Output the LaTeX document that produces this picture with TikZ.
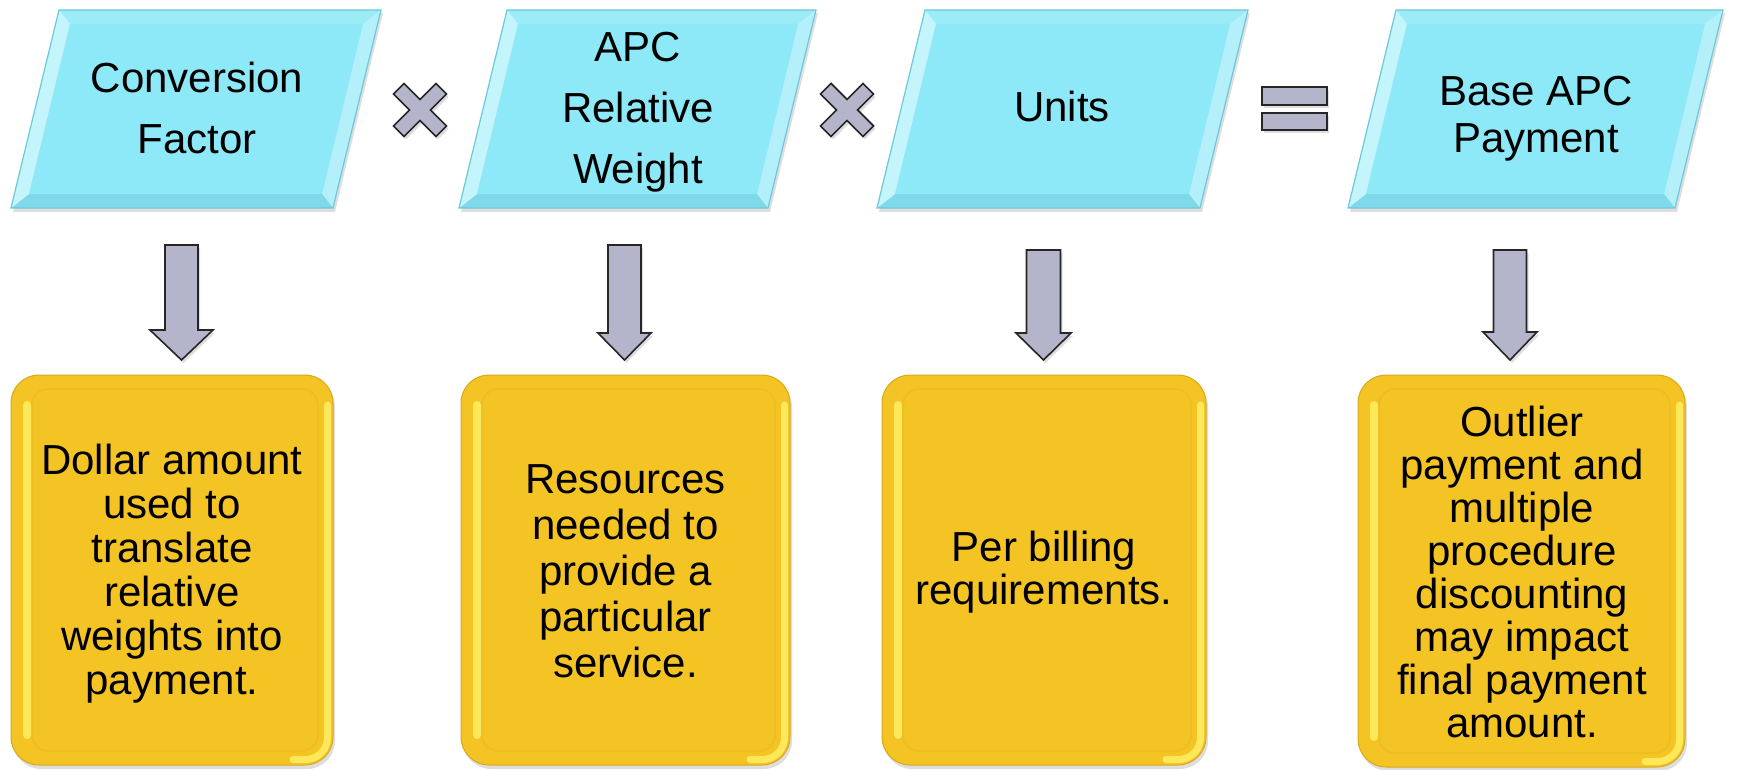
\documentclass[tikz,border=0pt]{standalone}
\usepackage{fontspec}
\setmainfont{Liberation Sans}
\definecolor{cyanmain}{HTML}{8DE8F7}
\definecolor{cyantop}{HTML}{9CECF8}
\definecolor{cyanleft}{HTML}{C4F5FC}
\definecolor{cyanright}{HTML}{B3F0FA}
\definecolor{cyanbot}{HTML}{80D9E9}
\definecolor{cyanline}{HTML}{6CC9DC}
\definecolor{goldmain}{HTML}{F4C324}
\definecolor{goldedge}{HTML}{D9A91C}
\definecolor{goldlight}{HTML}{FCE858}
\definecolor{greyfill}{HTML}{B4B5CA}
\tikzset{
  ptext/.style={font=\fontsize{42}{61}\selectfont, align=center, inner sep=0pt, text=black},
  btext/.style={font=\fontsize{42}{44}\selectfont, align=center, inner sep=0pt, text=black},
  opshape/.style={fill=greyfill, draw=black!85, line width=1.6pt, line join=miter},
  softshadow/.style={fill=black, opacity=0.13}
}
% parallelogram with bevel: #1 bottom-left x, #2 width
\newcommand{\bevpara}[2]{%
  \fill[softshadow] ({#1+50},13) -- ({#1+#2+50},13) -- ({#1+#2+2},212) -- ({#1+2},212) -- cycle;
  \fill[cyantop] ({#1+48},10) -- ({#1+#2+48},10) -- ({#1+#2+30},24) -- ({#1+59},24) -- cycle;
  \fill[cyanright] ({#1+#2+48},10) -- ({#1+#2},208) -- ({#1+#2-11},194) -- ({#1+#2+30},24) -- cycle;
  \fill[cyanbot] ({#1+#2},208) -- (#1,208) -- ({#1+18},194) -- ({#1+#2-11},194) -- cycle;
  \fill[cyanleft] (#1,208) -- ({#1+48},10) -- ({#1+59},24) -- ({#1+18},194) -- cycle;
  \fill[cyanmain] ({#1+59},24) -- ({#1+#2+30},24) -- ({#1+#2-11},194) -- ({#1+18},194) -- cycle;
  \draw[cyanline,line width=1.2pt] ({#1+48},10) -- ({#1+#2+48},10) -- ({#1+#2},208) -- (#1,208) -- cycle;
}
% bevelled gold box: #1 x1, #2 y1, #3 x2, #4 y2
\newcommand{\goldbox}[4]{%
  \fill[softshadow, rounded corners=28pt] ({#1+2},{#2+4}) rectangle ({#3+2},{#4+4});
  \filldraw[fill=goldmain, draw=goldedge, line width=1pt, rounded corners=28pt] (#1,#2) rectangle (#3,#4);
  \draw[goldedge!22!goldmain, line width=2pt, rounded corners=16pt] ({#1+21},{#2+14}) rectangle ({#3-15},{#4-14});
  \fill[goldlight, rounded corners=4pt] ({#1+12},{#2+26}) rectangle ({#1+20},{#4-26});
  \draw[goldlight, line width=7pt, line cap=round, rounded corners=22pt] ({#3-5.5},{#2+30}) -- ({#3-5.5},{#4-5.5}) -- ({#3-40},{#4-5.5});
}
% block arrow: #1 centre x, #2 shaft half width, #3 head half width, #4 top, #5 head top, #6 tip
\newcommand{\blockarrow}[6]{%
  \fill[softshadow] ({#1-#2+2},{#4+3}) -- ({#1+#2+2},{#4+3}) -- ({#1+#2+2},{#5+3}) -- ({#1+#3+2},{#5+3}) -- ({#1+2},{#6+3}) -- ({#1-#3+2},{#5+3}) -- ({#1-#2+2},{#5+3}) -- cycle;
  \draw[opshape] ({#1-#2},#4) -- ({#1+#2},#4) -- ({#1+#2},#5) -- ({#1+#3},#5) -- (#1,#6) -- ({#1-#3},#5) -- ({#1-#2},#5) -- cycle;
}
% multiplication sign centred at #1,#2
\newcommand{\mulsign}[2]{%
  \begin{scope}[shift={({#1+2},{#2+3})},rotate=45]
    \fill[softshadow] (7.5,7.5) -- (7.5,30) -- (-7.5,30) -- (-7.5,7.5) -- (-30,7.5) -- (-30,-7.5) -- (-7.5,-7.5) -- (-7.5,-30) -- (7.5,-30) -- (7.5,-7.5) -- (30,-7.5) -- (30,7.5) -- cycle;
  \end{scope}
  \begin{scope}[shift={(#1,#2)},rotate=45]
    \draw[opshape] (7.5,7.5) -- (7.5,30) -- (-7.5,30) -- (-7.5,7.5) -- (-30,7.5) -- (-30,-7.5) -- (-7.5,-7.5) -- (-7.5,-30) -- (7.5,-30) -- (7.5,-7.5) -- (30,-7.5) -- (30,7.5) -- cycle;
  \end{scope}
}
\begin{document}
\begin{tikzpicture}[x=1pt,y=-1pt]
  \useasboundingbox[fill=white] (0,0) rectangle (1745,770);

  % top row: factors
  \bevpara{11}{322}
  \bevpara{459}{309}
  \bevpara{877}{323}
  \bevpara{1348}{327}
  \node[ptext] (p1) at (197,107.5) {Conversion\\Factor};
  \node[ptext] (p2) at (638,112.5) {APC\\Relative\\Weight};
  \node[ptext] (p3) at (1062,106) {Units};
  \node[ptext, font=\fontsize{42}{47}\selectfont] (p4) at (1536,119) {Base APC\\Payment};

  % operators
  \mulsign{420}{110}
  \mulsign{847}{110}
  \fill[softshadow] (1264,90) rectangle (1329,108);
  \fill[softshadow] (1264,116) rectangle (1329,133);
  \draw[opshape] (1262,87) rectangle (1327,105);
  \draw[opshape] (1262,113) rectangle (1327,130);

  % down arrows
  \blockarrow{181.5}{16.5}{31.5}{245}{330}{360}
  \blockarrow{624.5}{16.5}{26.5}{245}{333}{360}
  \blockarrow{1043.5}{17}{27.5}{250}{333}{360}
  \blockarrow{1510}{16.5}{27}{250}{332}{360}

  % bottom row: explanations
  \goldbox{11}{375}{333}{765}
  \goldbox{461}{375}{790}{765}
  \goldbox{882}{375}{1206}{765}
  \goldbox{1358}{375}{1685}{767}
  \node[btext] (b1) at (172,574) {Dollar amount\\used to\\translate\\relative\\weights into\\payment.};
  \node[btext, font=\fontsize{42}{46}\selectfont] (b2) at (625.5,571) {Resources\\needed to\\provide a\\particular\\service.};
  \node[btext, font=\fontsize{42}{43}\selectfont] (b3) at (1044,572) {Per billing\\requirements.};
  \node[btext, font=\fontsize{42}{43}\selectfont] (b4) at (1522,571.5) {Outlier\\payment and\\multiple\\procedure\\discounting\\may impact\\final payment\\amount.};
\end{tikzpicture}
\end{document}
